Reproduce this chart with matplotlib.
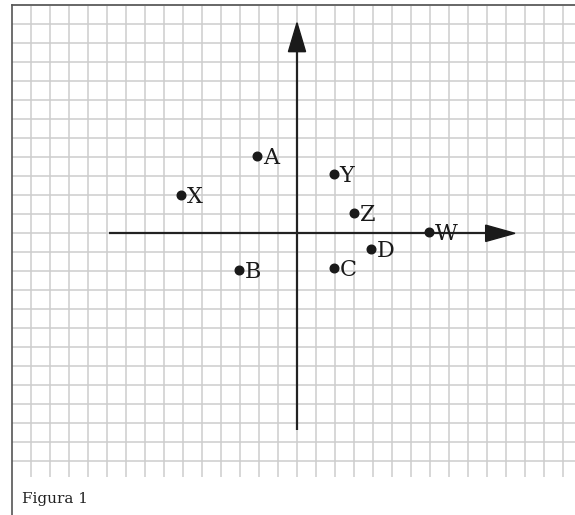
import numpy as np
import matplotlib
matplotlib.use("Agg")
import matplotlib.pyplot as plt
from matplotlib.patches import Polygon

# points (one grid square = one unit)
labels = ["A", "X", "B", "Y", "Z", "W", "D", "C"]
xs = [-2.1, -6.1, -3.05, 1.95, 3.0, 6.95, 3.9, 1.95]
ys = [4.05, 2.0, -1.95, 3.1, 1.05, 0.05, -0.8, -1.8]

caption = "Figura 1"

# pixel geometry of the page (575 x 515 px, 19 px per grid square)
W, H = 575, 515
cell = 19.0
ox, oy = 297.0, 233.3


def px_x(p):
    return (p - ox) / cell


def px_y(p):
    return (oy - p) / cell


fig = plt.figure(figsize=(W / 100, H / 100), dpi=100)
ax = fig.add_axes([0, 0, 1, 1])
ax.set_xlim(px_x(0), px_x(W))
ax.set_ylim(px_y(H), px_y(0))
ax.axis("off")

grid_col = "#cdcdcd"
right = px_x(W)
# horizontal grid lines
for gy in range(-12, 13):
    ax.plot([-15, right], [gy, gy], color=grid_col, lw=1.1, zorder=1,
            solid_capstyle="butt")
# vertical grid lines
for gx in range(-14, 15):
    ax.plot([gx, gx], [12, -12.8], color=grid_col, lw=1.1, zorder=1,
            solid_capstyle="butt")

# page border (left and top)
ax.plot([-15, -15], [12, px_y(H)], color="#555555", lw=1.2, zorder=2)
ax.plot([-15, right], [12, 12], color="#555555", lw=1.2, zorder=2)

# axes with arrowheads
axis_col = "#222222"
ax.plot([-9.9, 9.95], [0, 0], color=axis_col, lw=1.6, zorder=3,
        solid_capstyle="butt")
ax.plot([0, 0], [-10.35, 9.6], color=axis_col, lw=1.6, zorder=3,
        solid_capstyle="butt")
ax.add_patch(Polygon([[9.93, 0.43], [11.47, 0], [9.93, -0.43]],
                     closed=True, color="#1a1a1a", zorder=4))
ax.add_patch(Polygon([[-0.45, 9.56], [0, 11.08], [0.45, 9.56]],
                     closed=True, color="#1a1a1a", zorder=4))

# points
ax.plot(xs, ys, "o", color="#1a1a1a", ms=6.2, zorder=5)
for lab, x, y in zip(labels, xs, ys):
    ax.annotate(lab, (x, y), xytext=(4, -1.5), textcoords="offset points",
                ha="left", va="center", fontsize=16, family="DejaVu Serif",
                color="#1a1a1a", zorder=6)

ax.text(px_x(22), px_y(503), caption, ha="left", va="baseline",
        fontsize=11, family="DejaVu Serif", color="#222222")

fig.savefig("out.png", dpi=100)
